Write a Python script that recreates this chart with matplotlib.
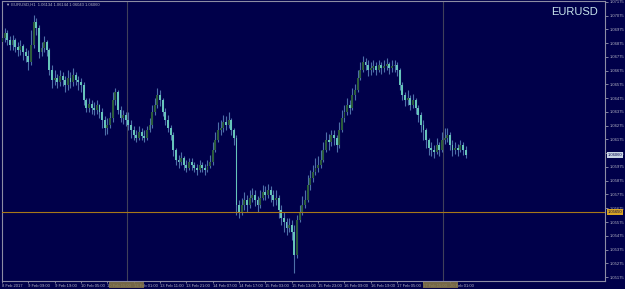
import matplotlib
matplotlib.use("Agg")
import matplotlib.pyplot as plt
from matplotlib.patches import Rectangle

# EURUSD H1, 8 Feb 2017 23:00 onwards
first_open = 1.06884
closes = [
    1.06913, 1.06949, 1.06898, 1.06862, 1.06898, 1.06847, 1.06825, 1.06855, 1.06811, 1.06782,
    1.06738, 1.06862, 1.07029, 1.06985, 1.06811, 1.06840, 1.06884, 1.06825, 1.06680, 1.06607,
    1.06622, 1.06593, 1.06636, 1.06607, 1.06571, 1.06622, 1.06593, 1.06644, 1.06607, 1.06593,
    1.06571, 1.06462, 1.06404, 1.06433, 1.06404, 1.06389, 1.06426, 1.06375, 1.06316, 1.06258,
    1.06280, 1.06331, 1.06462, 1.06520, 1.06389, 1.06331, 1.06353, 1.06316, 1.06280, 1.06244,
    1.06208, 1.06186, 1.06229, 1.06200, 1.06186, 1.06244, 1.06280, 1.06375, 1.06426, 1.06498,
    1.06462, 1.06375, 1.06316, 1.06258, 1.06208, 1.06098, 1.06026, 1.06011, 1.06040, 1.05989,
    1.05967, 1.06011, 1.05989, 1.05967, 1.05953, 1.05989, 1.05967, 1.05953, 1.05982, 1.06011,
    1.06098, 1.06171, 1.06244, 1.06258, 1.06302, 1.06280, 1.06316, 1.06244, 1.06186, 1.05699,
    1.05648, 1.05699, 1.05735, 1.05699, 1.05750, 1.05771, 1.05735, 1.05699, 1.05750, 1.05793,
    1.05771, 1.05807, 1.05771, 1.05735, 1.05750, 1.05662, 1.05604, 1.05575, 1.05531, 1.05553,
    1.05502, 1.05335, 1.05590, 1.05648, 1.05699, 1.05735, 1.05844, 1.05895, 1.05939, 1.05967,
    1.05989, 1.06026, 1.06098, 1.06171, 1.06157, 1.06208, 1.06186, 1.06135, 1.06244, 1.06331,
    1.06375, 1.06426, 1.06404, 1.06498, 1.06535, 1.06622, 1.06680, 1.06738, 1.06716, 1.06680,
    1.06695, 1.06709, 1.06680, 1.06716, 1.06695, 1.06709, 1.06724, 1.06695, 1.06709, 1.06716,
    1.06680, 1.06571, 1.06498, 1.06462, 1.06477, 1.06426, 1.06462, 1.06404, 1.06353, 1.06280,
    1.06244, 1.06171, 1.06113, 1.06098, 1.06084, 1.06135, 1.06098, 1.06171, 1.06186, 1.06208,
    1.06135, 1.06098, 1.06113, 1.06098, 1.06135, 1.06098, 1.06060,
]
highs = [
    1.06971, 1.06985, 1.06971, 1.06927, 1.06935, 1.06913, 1.06884, 1.06898, 1.06869, 1.06840,
    1.06825, 1.06971, 1.07080, 1.07058, 1.07007, 1.06884, 1.06927, 1.06898, 1.06840, 1.06716,
    1.06680, 1.06651, 1.06680, 1.06666, 1.06636, 1.06680, 1.06666, 1.06695, 1.06666, 1.06636,
    1.06622, 1.06593, 1.06477, 1.06477, 1.06462, 1.06447, 1.06462, 1.06433, 1.06404, 1.06346,
    1.06331, 1.06375, 1.06520, 1.06549, 1.06535, 1.06418, 1.06389, 1.06375, 1.06375, 1.06316,
    1.06273, 1.06244, 1.06273, 1.06258, 1.06244, 1.06273, 1.06331, 1.06426, 1.06477, 1.06549,
    1.06535, 1.06477, 1.06404, 1.06353, 1.06280, 1.06229, 1.06113, 1.06062, 1.06084, 1.06055,
    1.06026, 1.06040, 1.06040, 1.06011, 1.05997, 1.06026, 1.06011, 1.05997, 1.06026, 1.06062,
    1.06157, 1.06229, 1.06302, 1.06316, 1.06353, 1.06346, 1.06375, 1.06331, 1.06258, 1.06208,
    1.05735, 1.05750, 1.05793, 1.05771, 1.05807, 1.05822, 1.05807, 1.05764, 1.05807, 1.05844,
    1.05837, 1.05851, 1.05837, 1.05807, 1.05807, 1.05771, 1.05699, 1.05648, 1.05604, 1.05604,
    1.05590, 1.05553, 1.05626, 1.05699, 1.05764, 1.05807, 1.05917, 1.05953, 1.05989, 1.06040,
    1.06055, 1.06098, 1.06157, 1.06229, 1.06215, 1.06244, 1.06244, 1.06208, 1.06302, 1.06389,
    1.06426, 1.06477, 1.06462, 1.06549, 1.06578, 1.06680, 1.06738, 1.06782, 1.06767, 1.06753,
    1.06738, 1.06753, 1.06738, 1.06753, 1.06738, 1.06753, 1.06767, 1.06738, 1.06753, 1.06753,
    1.06738, 1.06695, 1.06593, 1.06520, 1.06535, 1.06498, 1.06506, 1.06477, 1.06426, 1.06375,
    1.06316, 1.06258, 1.06186, 1.06157, 1.06135, 1.06186, 1.06157, 1.06229, 1.06258, 1.06258,
    1.06229, 1.06171, 1.06157, 1.06142, 1.06171, 1.06157, 1.06128,
]
lows = [
    1.06862, 1.06884, 1.06862, 1.06825, 1.06825, 1.06811, 1.06782, 1.06789, 1.06753, 1.06738,
    1.06680, 1.06716, 1.06840, 1.06935, 1.06767, 1.06782, 1.06811, 1.06782, 1.06644, 1.06549,
    1.06571, 1.06549, 1.06564, 1.06564, 1.06520, 1.06535, 1.06549, 1.06564, 1.06571, 1.06535,
    1.06520, 1.06426, 1.06375, 1.06375, 1.06360, 1.06353, 1.06360, 1.06331, 1.06258, 1.06208,
    1.06215, 1.06258, 1.06302, 1.06426, 1.06360, 1.06302, 1.06288, 1.06273, 1.06244, 1.06186,
    1.06171, 1.06157, 1.06171, 1.06171, 1.06157, 1.06171, 1.06229, 1.06258, 1.06353, 1.06404,
    1.06418, 1.06346, 1.06280, 1.06229, 1.06171, 1.06055, 1.05989, 1.05967, 1.05989, 1.05953,
    1.05939, 1.05953, 1.05953, 1.05939, 1.05917, 1.05939, 1.05939, 1.05917, 1.05939, 1.05967,
    1.05989, 1.06084, 1.06157, 1.06208, 1.06229, 1.06244, 1.06258, 1.06208, 1.06135, 1.05626,
    1.05604, 1.05626, 1.05662, 1.05648, 1.05677, 1.05720, 1.05692, 1.05648, 1.05677, 1.05735,
    1.05735, 1.05750, 1.05720, 1.05692, 1.05699, 1.05604, 1.05553, 1.05502, 1.05481, 1.05502,
    1.05445, 1.05204, 1.05313, 1.05575, 1.05626, 1.05677, 1.05720, 1.05807, 1.05866, 1.05917,
    1.05939, 1.05967, 1.06011, 1.06084, 1.06098, 1.06128, 1.06135, 1.06084, 1.06113, 1.06229,
    1.06302, 1.06353, 1.06360, 1.06389, 1.06462, 1.06520, 1.06607, 1.06666, 1.06680, 1.06636,
    1.06644, 1.06666, 1.06644, 1.06666, 1.06651, 1.06666, 1.06680, 1.06651, 1.06666, 1.06666,
    1.06636, 1.06535, 1.06462, 1.06418, 1.06426, 1.06389, 1.06404, 1.06360, 1.06302, 1.06229,
    1.06171, 1.06113, 1.06062, 1.06055, 1.06040, 1.06069, 1.06055, 1.06084, 1.06142, 1.06157,
    1.06098, 1.06055, 1.06069, 1.06055, 1.06084, 1.06062, 1.06040,
]
opens = [first_open] + closes[:-1]

time_labels = ["8 Feb 2017", "9 Feb 09:00", "9 Feb 19:00", "10 Feb 05:00", "10 Feb 15:00",
               "13 Feb 01:00", "13 Feb 11:00", "13 Feb 21:00", "14 Feb 07:00", "14 Feb 17:00",
               "15 Feb 03:00", "15 Feb 13:00", "15 Feb 23:00", "16 Feb 09:00", "16 Feb 19:00",
               "17 Feb 05:00", "17 Feb 15:00", "20 Feb 01:00"]
week_starts = [48, 168]
price_levels = [1.05175, 1.05275, 1.05375, 1.05475, 1.05575, 1.05675, 1.05775, 1.05875,
                1.05975, 1.06075, 1.06175, 1.06275, 1.06375, 1.06475, 1.06575, 1.06675,
                1.06775, 1.06875, 1.06975, 1.07075, 1.07175]
hline_price = 1.05650
header = "\u25bc EURUSD,H1  1.06134 1.06144 1.06043 1.06060"

BG = "#00004a"
TXT = "#b4b4c4"
SPINE = "#8c8ca4"
BEAR = "#66c4ba"
BULL = "#2c5c3c"
WICK = "#4d6fa8"
FS = 3.0
FONT = ["Liberation Sans", "DejaVu Sans"]

fig = plt.figure(figsize=(6.25, 2.89), dpi=100, facecolor=BG)
ax = fig.add_axes([2 / 625, 1 - 281 / 289, 603 / 625, 280 / 289])
ax.set_facecolor(BG)

idx = list(range(len(closes)))
body_bottom = [min(o, c) for o, c in zip(opens, closes)]
body_height = [max(abs(c - o), 0.00003) for o, c in zip(opens, closes)]
body_color = [BULL if c > o else BEAR for o, c in zip(opens, closes)]

ax.vlines(idx, lows, highs, color=WICK, linewidth=0.8, zorder=2)
ax.bar(idx, body_height, 0.72, bottom=body_bottom, color=body_color, linewidth=0, zorder=3)

for w in week_starts:
    ax.axvline(w - 0.5, color="#40405a", linewidth=0.8, zorder=1)
ax.axhline(hline_price, color="#a87818", linewidth=0.8, zorder=4)

ax.set_xlim(0.53, 228.9)
ax.set_ylim(1.05146, 1.07182)

ax.yaxis.tick_right()
ax.set_yticks(price_levels)
ax.set_yticklabels(["%.5f" % p for p in price_levels], family=FONT)
ax.set_xticks(list(range(0, 10 * len(time_labels), 10)))
ax.set_xticklabels(time_labels, ha="left", family=FONT)
ax.tick_params(axis="y", colors=TXT, labelsize=FS, length=2, width=0.5, pad=1.5)
ax.tick_params(axis="x", colors=TXT, labelsize=FS, length=1.5, width=0.5, pad=0.5)
for s in ax.spines.values():
    s.set_color(SPINE)
    s.set_linewidth(0.8)

# price boxes on the right scale
ytr = ax.get_yaxis_transform()
ax.text(1.005, closes[-1], "%.5f" % closes[-1], transform=ytr, fontsize=FS, color="#00004a",
        va="center", ha="left", clip_on=False, zorder=6, family=FONT,
        bbox=dict(boxstyle="square,pad=0.2", fc="#c8d4e4", ec="none"))
ax.text(1.005, hline_price, "%.5f" % hline_price, transform=ytr, fontsize=FS, color="#00004a",
        va="center", ha="left", clip_on=False, zorder=6, family=FONT,
        bbox=dict(boxstyle="square,pad=0.2", fc="#d8a424", ec="none"))

fig.text(6 / 625, 1 - 5 / 289, header, fontsize=FS, color=TXT, va="center", ha="left",
         family=["Liberation Sans", "DejaVu Sans"])
fig.text(598 / 625, 1 - 12 / 289, "EURUSD", fontsize=8, color="#c8e4ec", va="center",
         ha="right", family=FONT)

for x0, x1 in [(109, 144), (423, 458)]:
    fig.add_artist(Rectangle((x0 / 625, 1 / 289), (x1 - x0) / 625, 6.5 / 289,
                             transform=fig.transFigure, fc="#8a7a48", ec="none", alpha=0.85))

fig.savefig("out.png", dpi=100, facecolor=BG)
